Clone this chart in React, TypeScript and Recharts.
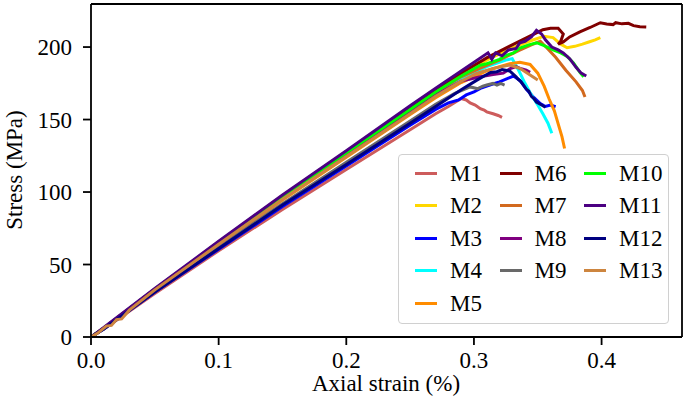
import React from "react";
import { LineChart, Line, XAxis, YAxis, ReferenceLine } from "recharts";

const FONT = '"Liberation Serif", "Times New Roman", serif';

// strain (%) / stress (MPa) pairs
const M1 = [[0,0],[0.01,5.5],[0.05,30],[0.1,59.5],[0.15,88],[0.2,115.5],[0.25,143],[0.27,154],[0.28,159],[0.29,164.5],[0.294,163.5],[0.297,161.5],[0.301,160],[0.305,157.5],[0.308,156.5],[0.31,155.3],[0.315,154],[0.319,152.8],[0.322,151.5]];
const M2 = [[0,0],[0.01,6],[0.05,33],[0.1,65],[0.15,97],[0.2,127],[0.25,157.5],[0.27,169.5],[0.29,181],[0.31,191],[0.33,199.5],[0.345,204.5],[0.355,207.5],[0.362,206.5],[0.368,202],[0.373,199.5],[0.379,200.5],[0.385,202],[0.39,203.5],[0.395,205],[0.399,206.5]];
const M3 = [[0,0],[0.01,5.5],[0.05,31],[0.1,60.5],[0.15,90],[0.2,118],[0.25,146],[0.27,157],[0.28,161.5],[0.288,163.5],[0.294,167],[0.3,169],[0.305,171.5],[0.313,174],[0.32,176],[0.327,178.5],[0.331,180],[0.336,177],[0.341,171],[0.346,166],[0.352,161],[0.356,159],[0.36,160],[0.364,158.8]];
const M4 = [[0,0],[0.01,6],[0.05,32.5],[0.1,64],[0.15,95],[0.2,125],[0.25,154.5],[0.27,166.5],[0.29,178],[0.31,186.5],[0.325,191],[0.33,192],[0.335,184],[0.34,175],[0.345,167],[0.35,160],[0.354,154],[0.358,147.5],[0.361,140.5]];
const M5 = [[0,0],[0.01,6],[0.05,32],[0.1,63.5],[0.15,94.5],[0.2,124],[0.25,153.5],[0.27,165],[0.29,175.5],[0.31,183.5],[0.32,186.5],[0.328,188.5],[0.336,189.5],[0.344,188],[0.35,182],[0.355,173],[0.359,164],[0.363,156],[0.366,147],[0.369,138],[0.371,130]];
const M6 = [[0,0],[0.01,6],[0.05,33],[0.1,65.5],[0.15,97.5],[0.2,128],[0.25,158.5],[0.27,170.5],[0.29,182],[0.31,192.5],[0.33,201.5],[0.345,208],[0.354,212],[0.36,213],[0.366,213],[0.37,209],[0.368,204],[0.366,202],[0.37,203.5],[0.375,207],[0.383,210.5],[0.391,213.5],[0.399,216.8],[0.404,215.9],[0.409,215.5],[0.411,216.8],[0.416,216],[0.421,216.4],[0.425,214.8],[0.43,214],[0.435,213.8]];
const M7 = [[0,0],[0.01,6],[0.05,33],[0.1,65],[0.15,96.5],[0.2,126.5],[0.25,156.5],[0.27,168.5],[0.29,179.5],[0.305,185.5],[0.32,191],[0.335,197.5],[0.345,201.5],[0.352,204],[0.357,199.5],[0.364,193],[0.372,184],[0.38,176],[0.385,170],[0.387,165.5]];
const M8 = [[0,0],[0.01,6],[0.05,32.5],[0.1,64.5],[0.15,95.5],[0.2,125],[0.25,155],[0.27,167],[0.29,176.5],[0.305,179.5],[0.315,181],[0.323,182],[0.328,185],[0.333,186.5],[0.337,185],[0.341,184],[0.344,182.5]];
const M9 = [[0,0],[0.01,5.5],[0.05,31.5],[0.1,62],[0.15,92],[0.2,120.5],[0.25,149],[0.27,160.5],[0.285,168],[0.297,172.5],[0.303,171.3],[0.307,173],[0.31,173.8],[0.315,174.9],[0.318,173.8],[0.321,174.9],[0.324,173.8]];
const M10 = [[0,0],[0.01,6],[0.05,33],[0.1,65],[0.15,96.5],[0.2,127],[0.25,157],[0.27,169],[0.29,180],[0.305,187.5],[0.31,188.5],[0.315,190],[0.32,191.5],[0.326,194.5],[0.331,196],[0.336,199.3],[0.343,201.5],[0.349,203],[0.355,201],[0.362,198],[0.368,196],[0.373,193.5],[0.378,189],[0.383,182.5],[0.386,179.5]];
const M11 = [[0,0],[0.01,6.5],[0.05,33.5],[0.1,66],[0.15,98],[0.2,128.5],[0.25,159.5],[0.27,171.6],[0.29,183.5],[0.311,196],[0.314,191.5],[0.317,196],[0.322,194],[0.327,198],[0.333,199],[0.336,203],[0.34,204],[0.345,207],[0.349,211.5],[0.353,209],[0.356,205],[0.361,200],[0.366,198],[0.37,196],[0.375,192],[0.38,186],[0.384,182],[0.388,180]];
const M12 = [[0,0],[0.01,5.5],[0.05,31],[0.1,61],[0.15,91],[0.2,119],[0.25,147.5],[0.27,159],[0.29,170.5],[0.302,177],[0.308,180],[0.313,182.5],[0.318,183],[0.322,184.5],[0.328,183.5],[0.333,179.5],[0.335,177.5],[0.337,176],[0.339,173.5],[0.341,171],[0.343,169.5],[0.345,166],[0.347,164.5],[0.349,162],[0.353,160],[0.356,158.5]];
const M13 = [[0,0],[0.005,2.5],[0.012,7.5],[0.016,8],[0.02,12],[0.024,12.5],[0.03,18.5],[0.05,32.5],[0.1,64],[0.15,95],[0.2,124.5],[0.25,154],[0.27,166],[0.289,176],[0.302,181.8],[0.315,185.3],[0.328,187.6],[0.336,185.3],[0.344,180.7],[0.35,177.2]];

const names = ["M1","M2","M3","M4","M5","M6","M7","M8","M9","M10","M11","M12","M13"];
const curves = [M1, M2, M3, M4, M5, M6, M7, M8, M9, M10, M11, M12, M13];
const colors = ["#CD5C5C","#FFD700","#0000FF","#00FFFF","#FF8C00","#800000","#D2691E","#800080","#696969","#00FF00","#4B0082","#000080","#CD853F"];

const xTicks = [0, 0.1, 0.2, 0.3, 0.4];
const yTicks = [0, 50, 100, 150, 200];
const X_MAX = 0.463;
const Y_MAX = 229.7;

const series = names.map((name, i) => ({
  name,
  color: colors[i],
  points: curves[i].map(([x, y]) => ({ x, y })),
}));

// legend is 3 columns of 5 / 4 / 4 entries, filled column by column
const legendCell = (i: number) => {
  if (i < 5) return { col: 1, row: i + 1 };
  if (i < 9) return { col: 2, row: i - 4 };
  return { col: 3, row: i - 8 };
};

const FS = 23;
const tickStyle = { fill: "#000", fontSize: FS, fontFamily: FONT };

export default function App() {
  return (
    <div style={{ position: "absolute", left: 0, top: 0, width: 685, height: 413, background: "#fff", fontFamily: FONT }}>
      <LineChart width={685} height={413} margin={{ top: 4, right: 3, bottom: 0, left: 0 }}>
        <XAxis
          type="number"
          dataKey="x"
          domain={[0, X_MAX]}
          ticks={xTicks}
          tickFormatter={(v: number) => v.toFixed(1)}
          allowDataOverflow
          height={76}
          tickSize={8}
          tickMargin={7}
          stroke="#000"
          strokeWidth={1.8}
          tick={tickStyle}
          label={{
            content: () => (
              <text x={386} y={391} textAnchor="middle" fontSize={FS} fontFamily={FONT} fill="#000">
                Axial strain (%)
              </text>
            ),
          }}
        />
        <YAxis
          type="number"
          domain={[0, Y_MAX]}
          ticks={yTicks}
          allowDataOverflow
          width={91}
          tickSize={8}
          tickMargin={11}
          stroke="#000"
          strokeWidth={1.8}
          tick={tickStyle}
          label={{
            content: () => (
              <text
                x={14}
                y={170}
                transform="rotate(-90 14 170)"
                textAnchor="middle"
                dominantBaseline="central"
                fontSize={FS}
                fontFamily={FONT}
                fill="#000"
              >
                Stress (MPa)
              </text>
            ),
          }}
        />
        <ReferenceLine x={X_MAX} stroke="#000" strokeWidth={1.8} />
        <ReferenceLine y={Y_MAX} stroke="#000" strokeWidth={1.8} />
        {series.map((s) => (
          <Line
            key={s.name}
            data={s.points}
            dataKey="y"
            name={s.name}
            type="linear"
            stroke={s.color}
            strokeWidth={3}
            dot={false}
            activeDot={false}
            isAnimationActive={false}
          />
        ))}
      </LineChart>

      <div
        style={{
          position: "absolute",
          left: 398,
          top: 154,
          width: 271,
          height: 170,
          boxSizing: "border-box",
          border: "1px solid #d0d0d0",
          borderRadius: 4,
          background: "rgba(255,255,255,0.8)",
          display: "grid",
          gridTemplateRows: "repeat(5, 32.5px)",
          gridTemplateColumns: "84.5px 84.5px 84.5px",
          padding: "2px 0 0 16px",
        }}
      >
        {series.map((s, i) => {
          const cell = legendCell(i);
          return (
            <div key={s.name} style={{ display: "flex", alignItems: "center", gridColumn: cell.col, gridRow: cell.row }}>
              <span style={{ display: "inline-block", width: 22, height: 3, background: s.color, marginRight: 13 }} />
              <span style={{ fontSize: FS, lineHeight: 1, color: "#000" }}>{s.name}</span>
            </div>
          );
        })}
      </div>
    </div>
  );
}
